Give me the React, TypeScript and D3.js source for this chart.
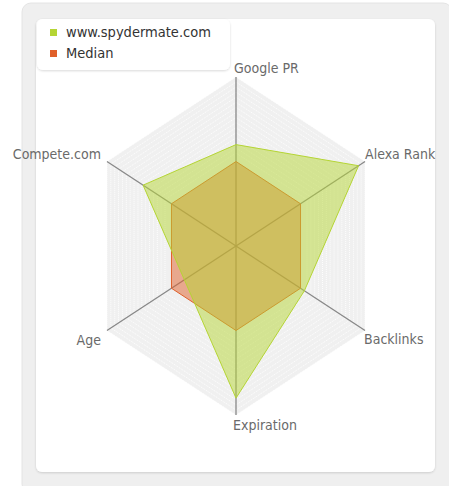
// @ts-nocheck
import React from "react";
import * as d3 from "d3";

const axes = ["Google PR", "Alexa Rank", "Backlinks", "Expiration", "Age", "Compete.com"];
const siteValues = [0.6, 0.95, 0.53, 0.9, 0.4, 0.72];
const medianValues = [0.5, 0.5, 0.5, 0.5, 0.5, 0.5];
const seriesNames = ["www.spydermate.com", "Median"];
const seriesColors = ["#b5d534", "#e0602a"];

const W = 449;
const H = 486;
const cx = 236;
const cy = 246;
const rx = 149;
const ry = 169;

const r = d3.scaleLinear().domain([0, 1]).range([0, 1]);
const angle = d3.scaleLinear().domain([0, axes.length]).range([0, 2 * Math.PI]);

const pt = (i, v) => [cx + rx * r(v) * Math.sin(angle(i)), cy - ry * r(v) * Math.cos(angle(i))];

const line = d3.line().curve(d3.curveLinearClosed);

const ring = (v) => line(axes.map((_, i) => pt(i, v)));

// label placement per axis: [dx, dy, anchor, baseline]
const labelPos = [
  [-2, -4, "start", "auto"],
  [0, -3, "start", "auto"],
  [-1, 3, "start", "hanging"],
  [-3, 5, "start", "hanging"],
  [-6, 4, "end", "hanging"],
  [-6, -3, "end", "auto"],
];

const gridLevels = d3.range(0.55, 1.001, 0.03);

export default function App() {
  const font = "'DejaVu Sans Condensed', 'DejaVu Sans', sans-serif";
  return (
    <svg width={W} height={H} style={{ position: "absolute", left: 0, top: 0 }}>
      <defs>
        <filter id="sh" x="-10%" y="-10%" width="120%" height="140%">
          <feDropShadow dx="0" dy="1" stdDeviation="1" floodColor="#000" floodOpacity="0.15" />
        </filter>
      </defs>
      <rect x={22} y={3} width={430} height={490} rx={9} fill="#efefef" stroke="#e4e4e4" />
      <rect x={36} y={19} width={399} height={453} rx={6} fill="#fff" filter="url(#sh)" />

      <path d={ring(1)} fill="#f0f0f0" />
      {gridLevels.map((v, k) => (
        <path key={k} d={ring(v)} fill="none" stroke="#fff" strokeWidth={1} strokeDasharray="1 1" opacity={0.9} />
      ))}

      {axes.map((a, i) => {
        const [x, y] = pt(i, 1);
        return <line key={a} x1={cx} y1={cy} x2={x} y2={y} stroke="#888" strokeWidth={1.3} />;
      })}

      <path
        d={line(medianValues.map((v, i) => pt(i, v)))}
        fill={seriesColors[1]}
        fillOpacity={0.5}
        stroke={seriesColors[1]}
        strokeWidth={1}
      />
      <path
        d={line(siteValues.map((v, i) => pt(i, v)))}
        fill={seriesColors[0]}
        fillOpacity={0.5}
        stroke={seriesColors[0]}
        strokeWidth={1}
      />

      {axes.map((a, i) => {
        const [x, y] = pt(i, 1);
        const [dx, dy, anchor, base] = labelPos[i];
        return (
          <text
            key={a}
            x={x + dx}
            y={y + dy}
            textAnchor={anchor}
            dominantBaseline={base}
            fontFamily={font}
            fontSize={14}
            fill="#6a6a6a"
          >
            {a}
          </text>
        );
      })}

      <rect x={37} y={19} width={193} height={51} rx={6} fill="#fff" filter="url(#sh)" />
      {seriesNames.map((n, k) => (
        <g key={n} transform={`translate(50,${32 + k * 21})`}>
          <rect x={0} y={-3} width={7} height={7} fill={seriesColors[k]} />
          <text x={16} y={5} fontFamily={font} fontSize={14.5} fill="#333">
            {n}
          </text>
        </g>
      ))}
    </svg>
  );
}
